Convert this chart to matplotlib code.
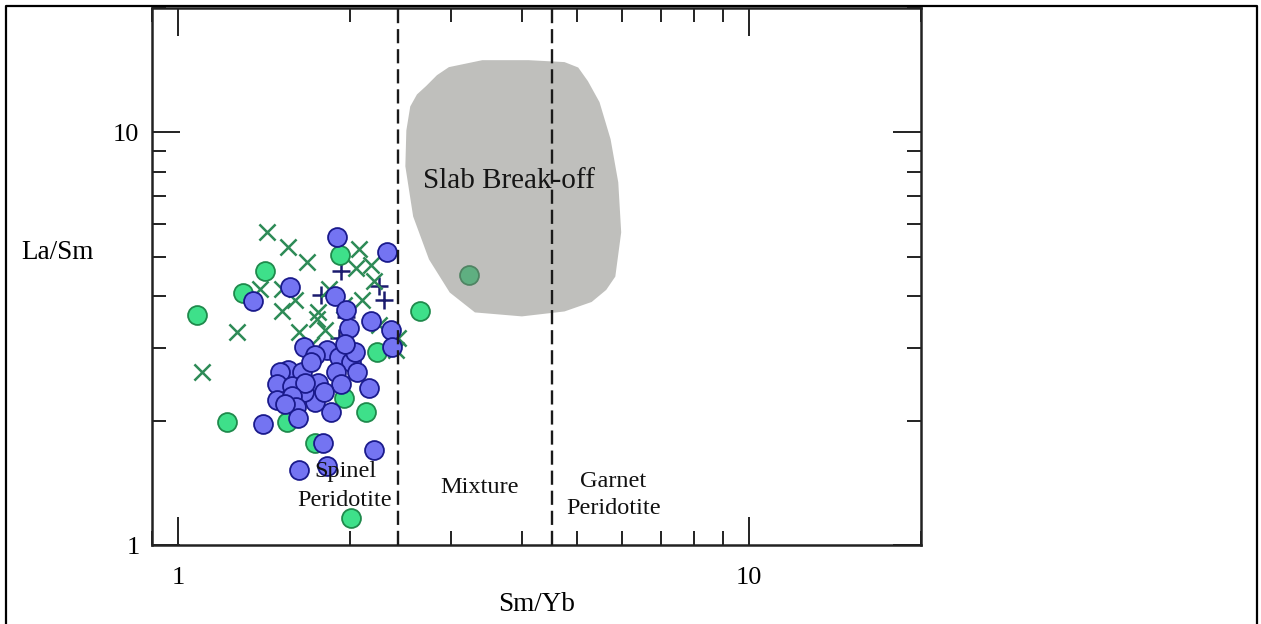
import matplotlib
matplotlib.use("Agg")
import matplotlib.pyplot as plt
from matplotlib.lines import Line2D
from matplotlib.patches import Polygon
from matplotlib.ticker import LogLocator, FuncFormatter, NullFormatter

plt.rcParams["font.family"] = ["Liberation Serif", "DejaVu Serif"]

# Sm/Yb vs La/Sm ratios by sample group
blue_smyb = [1.90, 2.32, 1.57, 1.35, 1.88, 2.18, 1.99, 2.36, 2.37, 1.82, 1.91, 2.01,
             1.66, 1.74, 1.89, 1.76, 1.93, 2.16, 1.85, 1.74, 1.66, 1.56, 1.65, 1.51,
             1.49, 1.58, 1.67, 1.49, 1.58, 1.61, 1.62, 1.41, 1.79, 2.20, 1.63, 1.82,
             2.04, 1.96, 1.80, 1.71, 1.97, 2.06, 1.54]
blue_lasm = [5.59, 5.14, 4.21, 3.89, 4.02, 3.48, 3.36, 3.32, 3.02, 2.97, 2.86, 2.77,
             3.01, 2.89, 2.63, 2.47, 2.45, 2.40, 2.10, 2.22, 2.35, 2.66, 2.63, 2.63,
             2.45, 2.43, 2.47, 2.25, 2.29, 2.16, 2.03, 1.96, 1.77, 1.70, 1.52, 1.55,
             2.94, 3.07, 2.35, 2.77, 3.72, 2.63, 2.19]

green_smyb = [1.42, 1.92, 1.30, 1.08, 2.65, 3.23, 2.23, 1.22, 2.13, 1.55, 1.95, 1.74, 2.01]
green_lasm = [4.60, 5.03, 4.07, 3.60, 3.68, 4.52, 2.94, 1.99, 2.10, 1.99, 2.27, 1.77, 1.16]

cross_smyb = [1.43, 1.56, 1.68, 1.39, 1.52, 1.27, 1.10, 1.52, 1.63, 1.75, 2.07, 2.05,
              2.20, 1.95, 2.43, 2.41, 1.84, 1.76, 2.10, 1.71, 1.81, 2.25, 1.60, 2.18]
cross_lasm = [5.72, 5.26, 4.86, 4.16, 4.16, 3.29, 2.63, 3.68, 3.29, 3.52, 5.20, 4.70,
              4.35, 3.82, 3.18, 2.97, 4.16, 3.66, 3.93, 3.06, 3.32, 3.42, 3.93, 4.78]

plus_smyb = [1.93, 1.78, 2.25, 2.29, 1.97, 1.91]
plus_lasm = [4.60, 4.04, 4.23, 3.93, 3.56, 3.18]

# slab break-off field outline
slab_smyb = [2.72, 2.84, 2.98, 3.41, 4.11, 4.75, 5.02, 5.22, 5.47, 5.72, 5.90, 5.97, 5.83,
             5.62, 5.30, 4.75, 4.00, 3.31, 2.99, 2.75, 2.58, 2.50, 2.51, 2.55, 2.62]
slab_lasm = [12.95, 13.75, 14.38, 14.95, 14.95, 14.79, 14.35, 13.30, 11.83, 9.62, 7.56,
             5.72, 4.47, 4.15, 3.88, 3.68, 3.58, 3.66, 4.09, 4.92, 6.25, 8.27, 10.10,
             11.55, 12.35]

# melting regime boundaries
spinel_limit = 2.43
garnet_limit = 4.52

fig = plt.figure(figsize=(12.61, 6.24), dpi=100)
ax = fig.add_axes([152 / 1261, 1 - 545 / 624, 769 / 1261, 537 / 624])

ax.set_xscale("log")
ax.set_yscale("log")
ax.set_xlim(0.9, 20)
ax.set_ylim(1, 20)

ax.scatter(plus_smyb, plus_lasm, marker="+", s=170, color="#1b1b6e", linewidths=1.8, zorder=3)
ax.scatter(cross_smyb, cross_lasm, marker="x", s=135, color="#2e8b57", linewidths=1.8, zorder=3)
ax.scatter(green_smyb, green_lasm, marker="o", s=185, facecolor="#3ee08a",
           edgecolor="#1f8a4c", linewidths=1.3, zorder=4)
ax.scatter(blue_smyb, blue_lasm, marker="o", s=185, facecolor="#7474f2",
           edgecolor="#1a1a8c", linewidths=1.3, zorder=5)

slab = Polygon(list(zip(slab_smyb, slab_lasm)), closed=True, facecolor="#80807a",
               edgecolor="none", alpha=0.5, joinstyle="round", zorder=6)
ax.add_patch(slab)

for xv in (spinel_limit, garnet_limit):
    ax.axvline(xv, color="#1a1a1a", lw=1.7, linestyle=(0, (6, 2.5)), zorder=7)

ax.text(3.8, 7.6, "Slab Break-off", fontsize=21, ha="center", va="center", color="#151515", zorder=8)
ax.text(1.96, 1.39, "Spinel\nPeridotite", fontsize=17.5, ha="center", va="center",
        linespacing=1.45, color="#111111", zorder=8)
ax.text(3.37, 1.375, "Mixture", fontsize=17.5, ha="center", va="center", color="#111111", zorder=8)
ax.text(5.78, 1.32, "Garnet\nPeridotite", fontsize=17.5, ha="center", va="center",
        linespacing=1.35, color="#111111", zorder=8)

for axis in (ax.xaxis, ax.yaxis):
    axis.set_major_locator(LogLocator(base=10))
    axis.set_minor_locator(LogLocator(base=10, subs=range(2, 10)))
    axis.set_major_formatter(FuncFormatter(lambda v, _: f"{v:g}"))
    axis.set_minor_formatter(NullFormatter())

ax.tick_params(which="both", direction="in", top=True, right=True, width=1.4, colors="#222222",
               labelcolor="black", labelsize=19)
ax.tick_params(which="major", length=20)
ax.tick_params(which="minor", length=10)
ax.tick_params(axis="x", pad=16)
ax.tick_params(axis="y", pad=9)

for sp in ax.spines.values():
    sp.set_linewidth(1.8)
    sp.set_color("#222222")

ax.set_xlabel("Sm/Yb", fontsize=19.5)
ax.set_ylabel("La/Sm", fontsize=19.5, rotation=0, ha="center", va="center")
ax.xaxis.set_label_coords(0.5007, -0.0875)
ax.yaxis.set_label_coords(-0.1235, 0.5456)

# page frame around the figure
x0, x1, y0 = 6 / 1261, 1257 / 1261, 1 - 6 / 624
fig.add_artist(Line2D([x0, x0, x1, x1], [0, y0, y0, 0], color="black", lw=1.6))

fig.savefig("out.png", dpi=100)
